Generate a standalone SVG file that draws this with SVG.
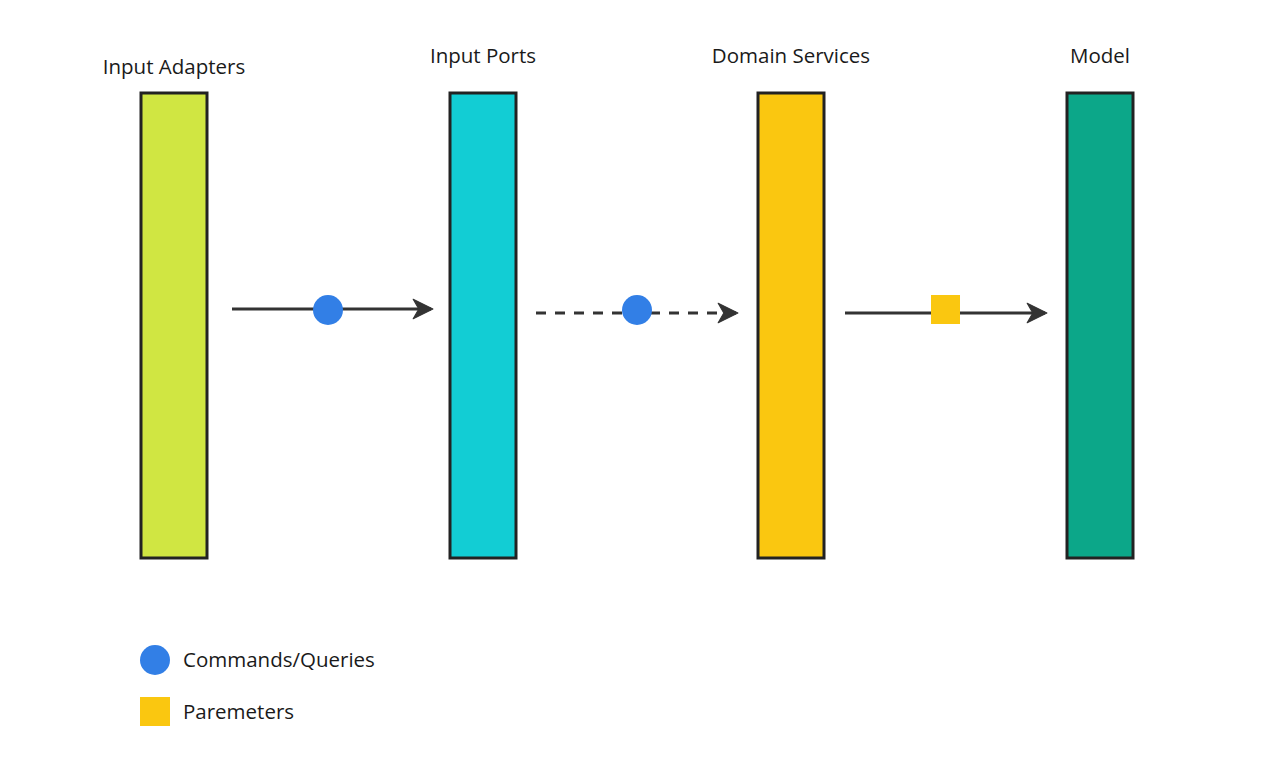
<svg xmlns="http://www.w3.org/2000/svg" width="1284" height="778" viewBox="0 0 1284 778">
<style>
.lbl{font-family:"Open Sans","Noto Sans",sans-serif;font-size:20.5px;fill:#1a1a1a}
.bar{stroke:#222;stroke-width:3}
.ln{stroke:#333;stroke-width:3;fill:none}
</style>
<defs>
<marker id="ah" viewBox="0 0 12 12" refX="10.5" refY="6" markerWidth="7.5" markerHeight="7.5" markerUnits="strokeWidth" orient="auto">
<path d="M1,0.8 L11.5,6 L1,11.2 L4,6 Z" fill="#333" stroke="#333" stroke-width="0.6" stroke-linejoin="round"/>
</marker>
</defs>
<rect width="1284" height="778" fill="#fff"/>
<g id="input-adapters">
<rect class="bar" x="141" y="93" width="66" height="465" fill="#d0e642"/>
<text class="lbl" x="174" y="74" text-anchor="middle">Input Adapters</text>
</g>
<g id="input-ports">
<rect class="bar" x="450" y="93" width="66" height="465" fill="#12cdd4"/>
<text class="lbl" x="483" y="63" text-anchor="middle">Input Ports</text>
</g>
<g id="domain-services">
<rect class="bar" x="758" y="93" width="66" height="465" fill="#fac710"/>
<text class="lbl" x="791" y="63" text-anchor="middle">Domain Services</text>
</g>
<g id="model">
<rect class="bar" x="1067" y="93" width="66" height="465" fill="#0ca789"/>
<text class="lbl" x="1100" y="63" text-anchor="middle">Model</text>
</g>
<g id="connectors">
<line class="ln" x1="232" y1="309" x2="431" y2="309" marker-end="url(#ah)"/>
<line class="ln" x1="536" y1="313" x2="736" y2="313" stroke-dasharray="10 9" marker-end="url(#ah)"/>
<line class="ln" x1="845" y1="313" x2="1045" y2="313" marker-end="url(#ah)"/>
<circle cx="328" cy="310" r="15" fill="#327fe6"/>
<circle cx="637" cy="310" r="15" fill="#327fe6"/>
<rect x="931" y="295" width="29" height="29" fill="#fac710"/>
</g>
<g id="legend">
<circle cx="155" cy="660" r="15" fill="#327fe6"/>
<text class="lbl" x="183" y="667">Commands/Queries</text>
<rect x="140" y="697" width="30" height="29" fill="#fac710"/>
<text class="lbl" x="183" y="719">Paremeters</text>
</g>
</svg>
